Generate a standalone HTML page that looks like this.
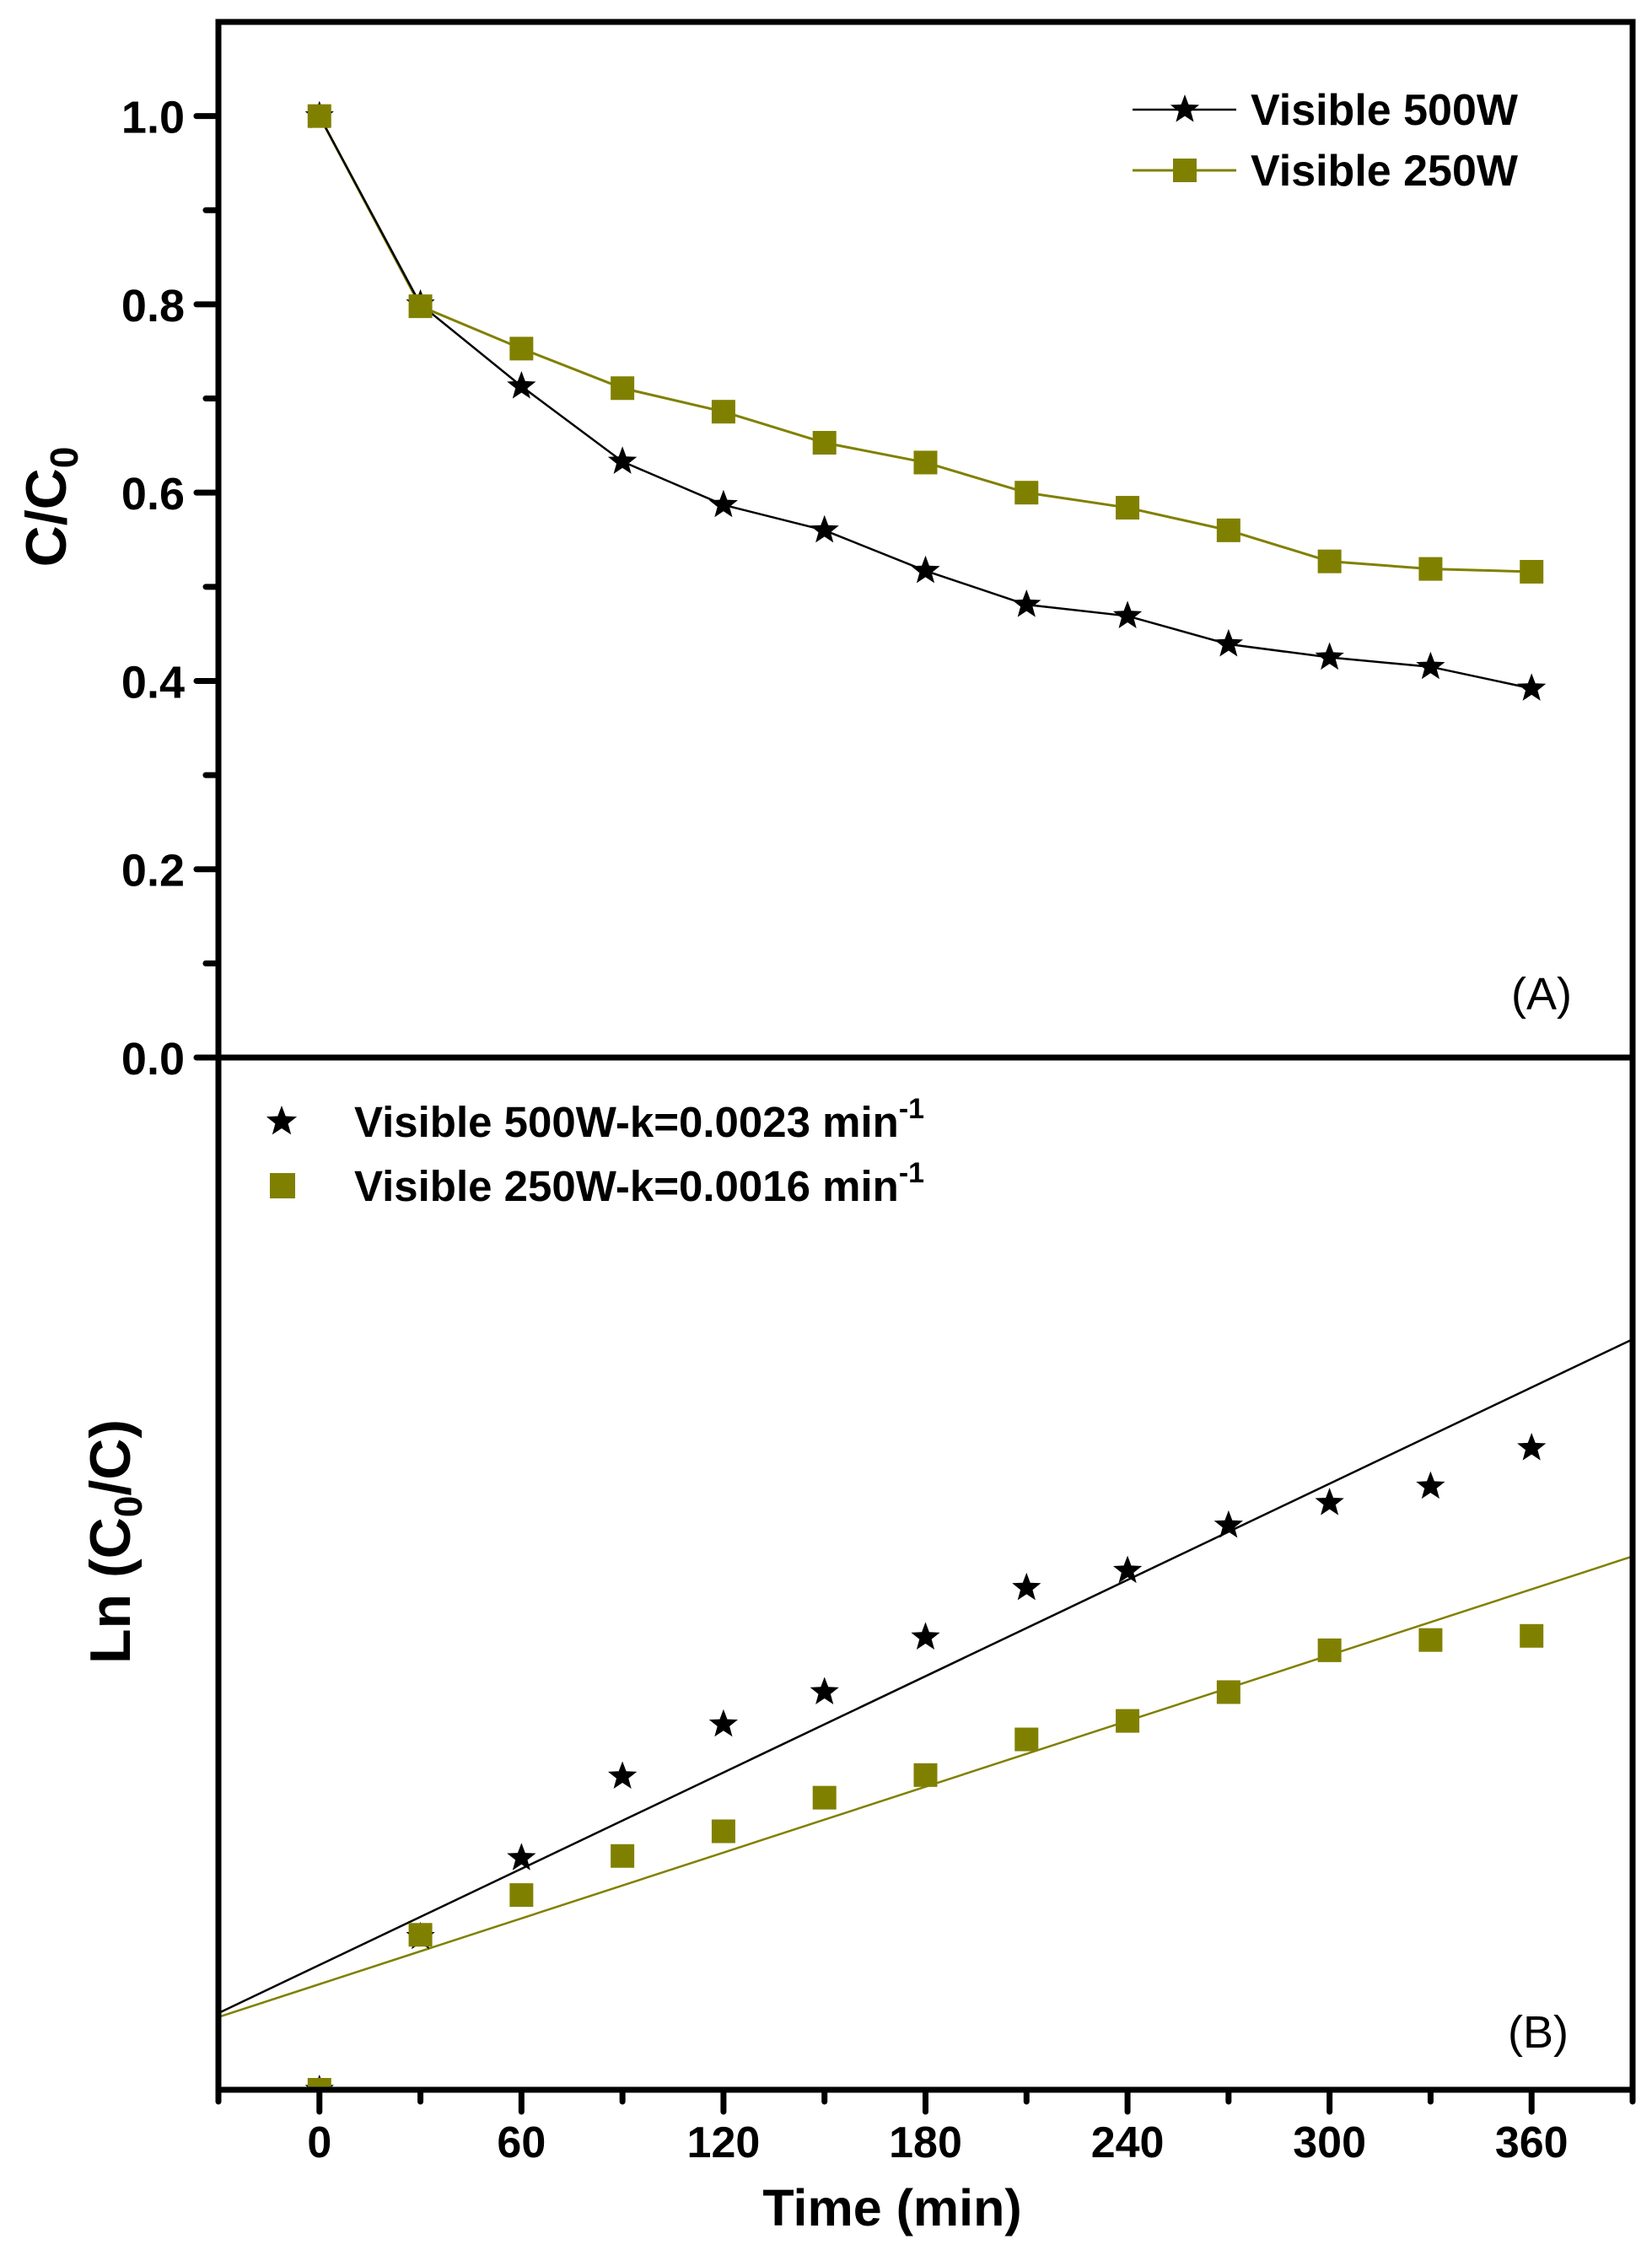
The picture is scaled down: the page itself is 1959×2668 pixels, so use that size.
<!DOCTYPE html>
<html><head><meta charset="utf-8"><style>
html,body{margin:0;padding:0;background:#fff;}
svg{display:block;font-family:"Liberation Sans",Arial,sans-serif;}
</style></head><body>
<svg id="chart" width="1959" height="2668" viewBox="0 0 1959 2668" xmlns="http://www.w3.org/2000/svg">
<g id="plot"></g>
</svg>
<script>
const times = [0,30,60,90,120,150,180,210,240,270,300,330,360];
const c500 = [1.0,0.800,0.713,0.633,0.587,0.560,0.517,0.481,0.469,0.439,0.425,0.415,0.392];
const c250 = [1.0,0.798,0.753,0.711,0.686,0.653,0.632,0.600,0.584,0.560,0.527,0.519,0.516];
const ln500 = [0,0.223,0.338,0.457,0.533,0.580,0.660,0.732,0.757,0.823,0.856,0.880,0.936];
const ln250 = [0,0.226,0.284,0.341,0.377,0.426,0.459,0.511,0.538,0.580,0.641,0.656,0.662];
const fit500 = [0.182,0.00234];
const fit250 = [0.154,0.00160];
const yTicksTop = [0.0,0.2,0.4,0.6,0.8,1.0];
const xTicks = [0,60,120,180,240,300,360];

const NS="http://www.w3.org/2000/svg";
const g=document.getElementById('plot');
const L=259,R=1936,T=26,M=1254,B=2478;
const X0=-30,X1=390;
function xs(t){return L+(t-X0)/(X1-X0)*(R-L);}
function ytop(v){return M-(v-0)/(1.1)*(M-T);}
const lnMax=(B-M)/813;
function ybot(v){return B-(v/lnMax)*(B-M);}
function mk(tag,attrs,parent){const e=document.createElementNS(NS,tag);for(const k in attrs)e.setAttribute(k,attrs[k]);(parent||g).appendChild(e);return e;}
function star(cx,cy,r,name){let p='';for(let i=0;i<10;i++){const a=-Math.PI/2+i*Math.PI/5;const rr=i%2?r*0.42:r;p+=(i?'L':'M')+(cx+rr*Math.cos(a)).toFixed(1)+' '+(cy+rr*Math.sin(a)).toFixed(1);}
 const e=mk('path',{d:p+'Z',fill:'#000'});return e;}
function sq(cx,cy,s,name){const e=mk('rect',{x:cx-s/2,y:cy-s/2,width:s,height:s,fill:'#808000'});return e;}
function txt(x,y,s,attrs,name){const e=mk('text',attrs);e.setAttribute('x',x);e.setAttribute('y',y);e.textContent=s;return e;}

// Top panel lines
let p5='',p2='';
times.forEach((t,i)=>{p5+=(i?'L':'M')+xs(t)+' '+ytop(c500[i]);p2+=(i?'L':'M')+xs(t)+' '+ytop(c250[i]);});
let l1=mk('path',{d:p2,fill:'none',stroke:'#808000','stroke-width':3});


let l2=mk('path',{d:p5,fill:'none',stroke:'#000','stroke-width':2.5});


times.forEach((t,i)=>{star(xs(t),ytop(c500[i]),18,'point-500w');});
times.forEach((t,i)=>{sq(xs(t),ytop(c250[i]),28,'point-250w');});

// Bottom panel fit lines
[[fit500,'#000','fit-line-500w'],[fit250,'#808000','fit-line-250w']].forEach(([f,c,n])=>{
 const e=mk('line',{x1:xs(X0),y1:ybot(f[0]+f[1]*X0),x2:xs(X1),y2:ybot(f[0]+f[1]*X1),stroke:c,'stroke-width':2.5});
 
 
});
const clip=mk('clipPath',{id:'cb'});mk('rect',{x:L,y:M,width:R-L,height:B-M},clip);
const gb=mk('g',{'clip-path':'url(#cb)'});
times.forEach((t,i)=>{const s=star(xs(t),ybot(ln500[i]),18,'ln-point-500w');gb.appendChild(s);});
times.forEach((t,i)=>{const s=sq(xs(t),ybot(ln250[i]),28,'ln-point-250w');gb.appendChild(s);});

// frames
let f1=mk('rect',{x:L,y:T,width:R-L,height:M-T,fill:'none',stroke:'#000','stroke-width':7});


let f2=mk('rect',{x:L,y:M,width:R-L,height:B-M,fill:'none',stroke:'#000','stroke-width':7});



// y ticks top
for(let v=0;v<=1.05;v+=0.1){const maj=Math.round(v*10)%2===0;const y=ytop(v);
 mk('line',{x1:L-(maj?26:15),y1:y,x2:L,y2:y,stroke:'#000','stroke-width':7,'stroke-linecap':'round'});}
yTicksTop.forEach(v=>{txt(219,ytop(v)+20,v.toFixed(1),{'font-size':54,'font-weight':'bold','text-anchor':'end'},'y-tick-label');});
// x ticks bottom
for(let t=-30;t<=390;t+=30){const maj=t%60===0;const x=xs(t);
 mk('line',{x1:x,y1:B,x2:x,y2:B+(maj?26:14),stroke:'#000','stroke-width':7,'stroke-linecap':'round'});}
xTicks.forEach(t=>{txt(xs(t),2558,String(t),{'font-size':52,'font-weight':'bold','text-anchor':'middle'},'x-tick-label');});

// axis titles
const yt=txt(0,0,'',{'font-size':68,'font-weight':'bold','text-anchor':'middle',transform:'translate(78,601) rotate(-90)'},'y-axis-title-top');
yt.innerHTML='C/C<tspan font-size="46" dy="14">0</tspan>';
const yb=txt(0,0,'',{'font-size':68,'font-weight':'bold','text-anchor':'middle',transform:'translate(154,1828) rotate(-90)'},'y-axis-title-bottom');
yb.innerHTML='Ln (C<tspan font-size="46" dy="14">0</tspan><tspan dy="-14">/C)</tspan>';
txt(1058,2639,'Time (min)',{'font-size':61,'font-weight':'bold','text-anchor':'middle'},'x-axis-title');
txt(1828,1197,'(A)',{'font-size':54,'text-anchor':'middle'},'panel-label-a');
txt(1824,2428,'(B)',{'font-size':54,'text-anchor':'middle'},'panel-label-b');

// legend top
let ll=mk('line',{x1:1343,y1:130,x2:1466,y2:130,stroke:'#000','stroke-width':2.5});


star(1405,130,18,'legend-marker-500w');
let ll2=mk('line',{x1:1343,y1:202,x2:1466,y2:202,stroke:'#808000','stroke-width':3});


sq(1405,202,28,'legend-marker-250w');
txt(1483,148,'Visible 500W',{'font-size':52,'font-weight':'bold'},'legend-label-500w');
txt(1483,220,'Visible 250W',{'font-size':52,'font-weight':'bold'},'legend-label-250w');
// legend bottom
star(334,1330,19,'legend-marker-ln-500w');
sq(335,1406,30,'legend-marker-ln-250w');
const a=txt(420,1348,'',{'font-size':51,'font-weight':'bold'},'legend-label-ln-500w');
a.innerHTML='Visible 500W-k=0.0023 min<tspan font-size="34" dy="-22">-1</tspan>';
const b=txt(420,1424,'',{'font-size':51,'font-weight':'bold'},'legend-label-ln-250w');
b.innerHTML='Visible 250W-k=0.0016 min<tspan font-size="34" dy="-22">-1</tspan>';
</script>
</body></html>
